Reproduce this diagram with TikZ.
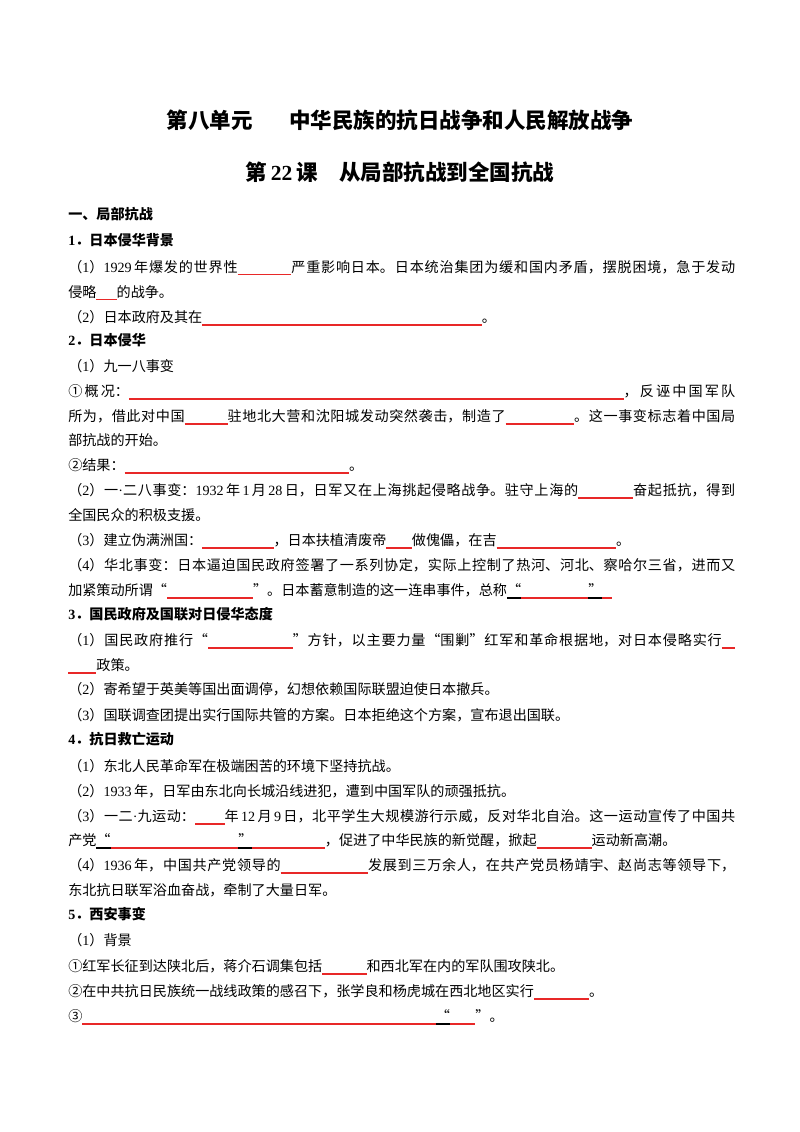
\documentclass[tikz,border=0pt]{standalone}
\usepackage{fontspec}
\setmainfont{Noto Sans CJK SC}
\newfontfamily\tnr{Liberation Serif}
\usepackage{xcolor}
\usetikzlibrary{positioning}
\XeTeXlinebreaklocale "zh"
\XeTeXlinebreakskip=0pt plus 1pt minus 0.2pt

\definecolor{blankred}{RGB}{232,40,40}

% fill-in blanks and helpers
\newcommand{\blank}[1]{\textcolor{blankred}{\rule[-2.6pt]{#1}{0.8pt}}}
\newcommand{\ulq}[1]{\setbox0\hbox{#1}\rlap{\rule[-2.6pt]{\wd0}{0.8pt}}\box0}
\newcommand{\dg}[1]{{\tnr #1}\,}
\newcommand{\md}{{\tnr ·}}
\newcommand{\fullrow}[1]{\parbox[b]{496.3pt}{\parfillskip=0pt\relax\noindent #1\par}}

\tikzset{
    rowtext/.style={anchor=base west, inner sep=0pt, font=\fontsize{10.5pt}{12pt}\selectfont},
    headtext/.style={anchor=base west, inner sep=0pt, font=\fontsize{10.5pt}{12pt}\selectfont\bfseries},
    titletext/.style={anchor=base, inner sep=0pt, font=\fontsize{16pt}{19pt}\selectfont\bfseries}
}

\begin{document}
\begin{tikzpicture}[x=0.7441pt, y=-0.7441pt]
    \def\leftx{68}

    % page
    \fill[white] (0,0) rectangle (800,1132);
    \useasboundingbox (0,0) rectangle (800,1132);

    % titles
    \node[titletext] (unit) at (400,128) {第八单元\hspace{27pt}中华民族的抗日战争和人民解放战争};
    \node[titletext] (lesson) at (400,180) {第\,{\tnr\bfseries 22}\,课\hspace{16pt}从局部抗战到全国抗战};

    % rows of the worksheet
    \foreach \n/\yy/\sty/\txt in {
        r1/219/headtext/{一、局部抗战},
        r2/245/headtext/{{\tnr 1}．日本侵华背景},
        r3/272/rowtext/{\fullrow{（{\tnr 1}）\dg{1929}年爆发的世界性\blank{40pt}严重影响日本。日本统治集团为缓和国内矛盾，摆脱困境，急于发动}},
        r4/297/rowtext/{侵略\blank{15pt}的战争。},
        r5/322/rowtext/{（{\tnr 2}）日本政府及其在\blank{208pt}。},
        r6/345/headtext/{{\tnr 2}．日本侵华},
        r7/371/rowtext/{（{\tnr 1}）九一八事变},
        r8/396/rowtext/{\fullrow{①概况：\blank{368pt}，反诬中国军队}},
        r9/421/rowtext/{\fullrow{所为，借此对中国\blank{32pt}驻地北大营和沈阳城发动突然袭击，制造了\blank{51pt}。这一事变标志着中国局}},
        r10/445/rowtext/{部抗战的开始。},
        r11/470/rowtext/{②结果：\blank{167pt}。},
        r12/495/rowtext/{\fullrow{（{\tnr 2}）一\md 二八事变：\dg{1932}年\,\dg{1}月\,\dg{28}日，日军又在上海挑起侵略战争。驻守上海的\blank{41pt}奋起抵抗，得到}},
        r13/520/rowtext/{全国民众的积极支援。},
        r14/545/rowtext/{（{\tnr 3}）建立伪满洲国：\blank{53pt}，日本扶植清废帝\blank{19pt}做傀儡，在吉\blank{89pt}。},
        r15/570/rowtext/{\fullrow{（{\tnr 4}）华北事变：日本逼迫国民政府签署了一系列协定，实际上控制了热河、河北、察哈尔三省，进而又}},
        r16/595/rowtext/{加紧策动所谓“\blank{64pt}”。日本蓄意制造的这一连串事件，总称\ulq{“}\blank{50pt}\ulq{”}\blank{7pt}},
        r17/619/headtext/{{\tnr 3}．国民政府及国联对日侵华态度},
        r18/645/rowtext/{\fullrow{（{\tnr 1}）国民政府推行“\blank{63pt}”方针，以主要力量“围剿”红军和革命根据地，对日本侵略实行\blank{10pt}}},
        r19/670/rowtext/{\blank{21pt}政策。},
        r20/694/rowtext/{（{\tnr 2}）寄希望于英美等国出面调停，幻想依赖国际联盟迫使日本撤兵。},
        r21/720/rowtext/{（{\tnr 3}）国联调查团提出实行国际共管的方案。日本拒绝这个方案，宣布退出国联。},
        r22/744/headtext/{{\tnr 4}．抗日救亡运动},
        r23/771/rowtext/{（{\tnr 1}）东北人民革命军在极端困苦的环境下坚持抗战。},
        r24/796/rowtext/{（{\tnr 2}）\dg{1933}年，日军由东北向长城沿线进犯，遭到中国军队的顽强抵抗。},
        r25/821/rowtext/{\fullrow{（{\tnr 3}）一二\md 九运动：\blank{22pt}年\,\dg{12}月\,\dg{9}日，北平学生大规模游行示威，反对华北自治。这一运动宣传了中国共}},
        r26/845/rowtext/{产党\ulq{“}\blank{95pt}\ulq{”}\blank{54pt}，促进了中华民族的新觉醒，掀起\blank{41pt}运动新高潮。},
        r27/870/rowtext/{\fullrow{（{\tnr 4}）\dg{1936}年，中国共产党领导的\blank{65pt}发展到三万余人，在共产党员杨靖宇、赵尚志等领导下，}},
        r28/895/rowtext/{东北抗日联军浴血奋战，牵制了大量日军。},
        r29/919/headtext/{{\tnr 5}．西安事变},
        r30/945/rowtext/{（{\tnr 1}）背景},
        r31/971/rowtext/{①红军长征到达陕北后，蒋介石调集包括\blank{33pt}和西北军在内的军队围攻陕北。},
        r32/996/rowtext/{②在中共抗日民族统一战线政策的感召下，张学良和杨虎城在西北地区实行\blank{41pt}。},
        r33/1021/rowtext/{③\blank{263pt}\ulq{“}\blank{19pt}”。}}
    {
        \node[\sty] (\n) at (\leftx,\yy) {\txt};
    }
\end{tikzpicture}
\end{document}
